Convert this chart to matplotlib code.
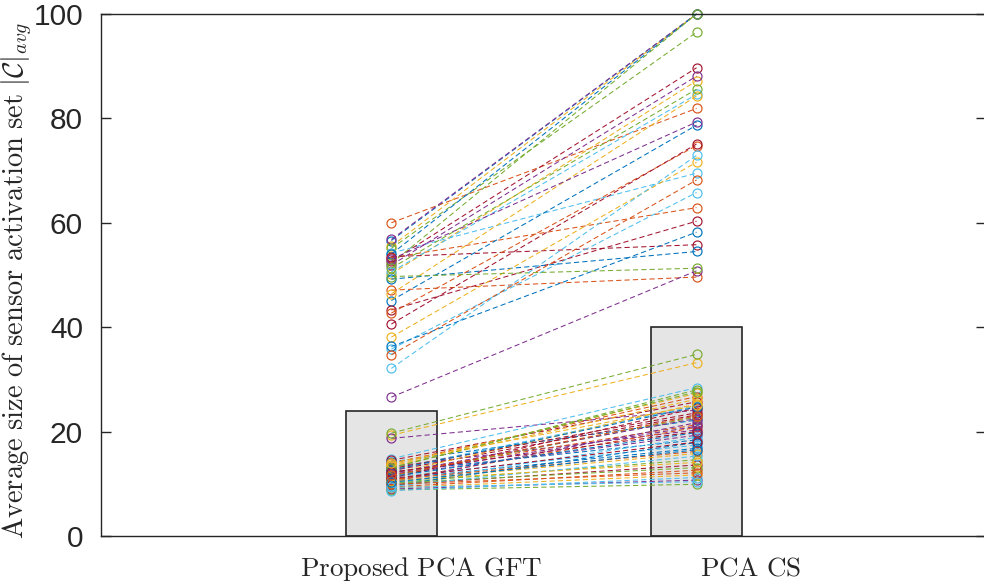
import matplotlib
matplotlib.use("Agg")
import matplotlib.pyplot as plt

plt.rcParams['mathtext.fontset'] = 'cm'

# group labels and mean heights of the two bars
methods = [r'$\mathrm{Proposed\ PCA\ GFT}$', r'$\mathrm{PCA\ CS}$']
bar_means = [24.0, 40.1]

# paired results per test case: value with proposed method -> value with PCA CS
# (order matters: colours follow the default colour order)
gft_vals = [
    56.6, 60.0, 55.5, 56.8, 55.1, 54.2, 52.6,
    54.0, 53.3, 50.2, 51.9, 52.2, 50.6, 53.5,
    45.1, 47.1, 46.4, 53.0, 51.3, 35.8, 43.3,
    49.2, 42.7, 38.1, 26.6, 49.7, 32.1, 40.6,
    36.3, 34.7,
    19.3, 18.7, 19.7, 14.8, 14.5, 14.2, 13.9, 13.6, 13.3, 13.0,
    12.8, 12.5, 12.3, 12.1, 11.9, 11.7, 11.5, 11.3, 11.1, 10.9,
    10.7, 10.5, 10.4, 10.2, 10.0, 9.8, 9.6, 9.4, 9.2, 9.0,
    8.8, 8.7, 12.9, 11.4, 10.8, 13.4, 12.0, 10.1, 9.5, 11.0,
    12.6, 9.9, 10.6, 11.8, 13.1, 9.3, 12.2, 10.3, 11.6, 14.0,
]
cs_vals = [
    100.0, 81.9, 100.0, 100.0, 96.5, 69.5, 89.7,
    100.0, 62.9, 87.2, 88.1, 100.0, 84.6, 55.8,
    78.7, 49.6, 84.3, 79.3, 85.6, 65.8, 60.3,
    54.5, 74.8, 71.6, 50.8, 51.3, 72.9, 75.1,
    58.2, 68.2,
    33.2, 24.1, 34.8, 28.4, 25.7, 22.2, 26.7, 27.3, 20.3, 28.0,
    24.9, 23.2, 18.4, 21.3, 25.3, 19.3, 22.8, 17.4, 24.5, 16.8,
    20.8, 15.8, 21.7, 14.6, 18.9, 13.6, 17.9, 12.6, 11.7, 10.7,
    9.9, 11.2, 23.6, 19.8, 16.2, 26.2, 22.5, 13.1, 15.3, 18.0,
    24.7, 12.1, 14.1, 21.0, 27.6, 10.4, 20.0, 16.5, 23.0, 25.0,
]

# MATLAB default colour order
colors = ['#0072BD', '#D95319', '#EDB120', '#7E2F8E',
          '#77AC30', '#4DBEEE', '#A2142F']

fig = plt.figure(figsize=(9.84, 5.85), dpi=100)
ax = fig.add_axes([0.1031, 0.0838, 0.8994, 0.8923])

xs = [1, 2]
ax.bar(xs, bar_means, width=0.3, color='#E5E5E5', edgecolor='#262626',
       linewidth=1.2, zorder=1)

for i, (a, b) in enumerate(zip(gft_vals, cs_vals)):
    c = colors[i % len(colors)]
    ax.plot(xs, [a, b], linestyle=(0, (5, 3)), linewidth=0.75, color=c,
            marker='o', markersize=6.5, markerfacecolor='none',
            markeredgecolor=c, markeredgewidth=0.85, zorder=2, clip_on=False)

ax.set_xlim(0.05, 2.95)
ax.set_ylim(0, 100)
ax.set_xticks(xs)
ax.set_xticklabels([])
# category labels, set a little right of the bar centres
for x, name, dx in zip(xs, methods, [30, 54]):
    ax.annotate(name, xy=(x, 0), xycoords=('data', 'axes fraction'),
                xytext=(dx, -40), textcoords='offset pixels',
                ha='center', va='baseline', fontsize=19.5, color='#262626')

ax.set_yticks([0, 20, 40, 60, 80, 100])
ax.tick_params(axis='x', length=0)
ax.tick_params(axis='y', direction='in', length=7, width=1, right=True,
               labelsize=21.5, colors='#262626', pad=13.3)
for lbl in ax.get_yticklabels():
    lbl.set_fontfamily('Liberation Sans')

ax.set_ylabel(r'$\mathrm{Average\ size\ of\ sensor\ activation\ set}\ |\mathcal{C}|_{avg}$',
              fontsize=20.5, color='#262626')
ax.yaxis.set_label_coords(-0.076, 0.49)

for s in ['left', 'top', 'bottom']:
    ax.spines[s].set_color('#262626')
    ax.spines[s].set_linewidth(1.0)
ax.spines['right'].set_visible(False)

fig.savefig('out.png', dpi=100)
